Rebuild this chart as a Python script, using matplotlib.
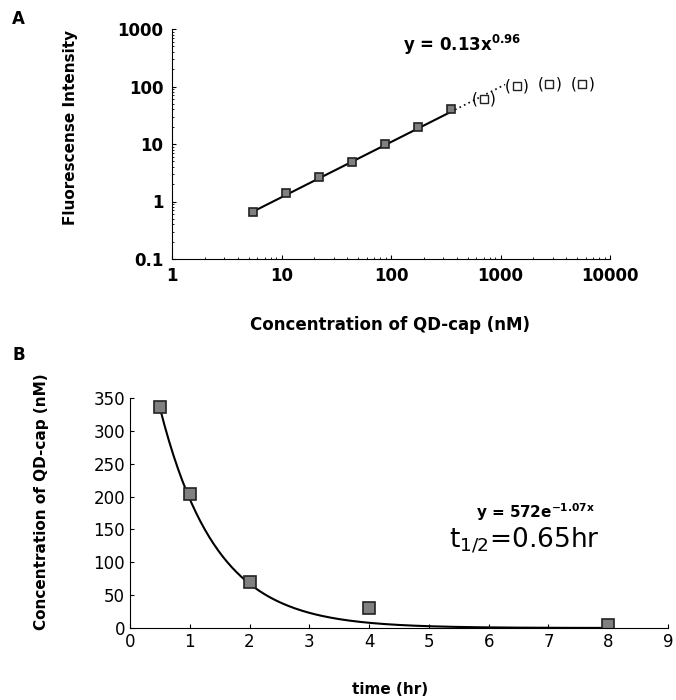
import numpy as np
import matplotlib.pyplot as plt
from matplotlib.ticker import FixedLocator, NullFormatter

plt.rcParams['font.family'] = ['DejaVu Sans']
plt.rcParams['mathtext.fontset'] = 'dejavusans'

# panel A: fluorescence vs concentration (log-log)
conc_fit = [5.5, 11, 22, 44, 88, 175, 350]
fluor_fit = [0.67, 1.43, 2.7, 4.9, 10, 19.6, 40]
conc_sat = [700, 1400, 2800, 5600]
fluor_sat = [60, 103, 110, 110]
pow_a, pow_b = 0.13, 0.96

# panel B: concentration vs time
time_hr = [0.5, 1, 2, 4, 8]
conc_t = [336, 204, 70, 30, 5]
exp_a, exp_k = 572, 1.07

fig = plt.figure(figsize=(6.76, 7), dpi=100)

# ---- A
ax1 = fig.add_axes([172/676, 1-259/700, (610-172)/676, (259-29)/700])
xs = np.logspace(np.log10(conc_fit[0]), np.log10(conc_fit[-1]), 50)
ax1.plot(xs, pow_a*xs**pow_b, color='black', lw=1.5)
xd = np.logspace(np.log10(conc_fit[-1]), np.log10(1100), 20)
ax1.plot(xd, pow_a*xd**pow_b, color='black', lw=1.2, ls=(0, (1, 2)))
ax1.plot(conc_fit, fluor_fit, 's', ms=6, mfc='#808080', mec='#222222', mew=1.2)
ax1.plot(conc_sat, fluor_sat, 's', ms=6, mfc='white', mec='#222222', mew=1.0)
# brackets round the saturated points
for x, y in zip(conc_sat, fluor_sat):
    ax1.annotate('(', (x, y), xytext=(-6.5, 0), textcoords='offset points',
                 ha='center', va='center', fontsize=11)
    ax1.annotate(')', (x, y), xytext=(6.5, 0), textcoords='offset points',
                 ha='center', va='center', fontsize=11)
ax1.set_xscale('log')
ax1.set_yscale('log')
ax1.set_xlim(1, 10000)
ax1.set_ylim(0.1, 1000)
ax1.xaxis.set_major_locator(FixedLocator([1, 10, 100, 1000, 10000]))
ax1.yaxis.set_major_locator(FixedLocator([0.1, 1, 10, 100, 1000]))
ax1.set_xticklabels(['1', '10', '100', '1000', '10000'])
ax1.set_yticklabels(['0.1', '1', '10', '100', '1000'])
ax1.xaxis.set_minor_formatter(NullFormatter())
ax1.yaxis.set_minor_formatter(NullFormatter())
for s in ['top', 'right']:
    ax1.spines[s].set_visible(False)
ax1.tick_params(which='both', direction='in', labelsize=12, pad=6)
ax1.tick_params(which='major', length=3)
ax1.tick_params(which='minor', length=1.5)
for lab in ax1.get_xticklabels() + ax1.get_yticklabels():
    lab.set_fontweight('bold')
ax1.set_ylabel('Fluorescense Intensity', fontsize=11, fontweight='bold')
ax1.yaxis.set_label_coords(-0.215, 0.57)
ax1.set_xlabel('Concentration of QD-cap (nM)', fontsize=12, fontweight='bold')
ax1.xaxis.set_label_coords(0.498, -0.25)
ax1.text(450, 520, r'y = 0.13x$^{\mathbf{0.96}}$', ha='center', va='center',
         fontsize=12, fontweight='bold')
fig.text(12/676, 1-19/700, 'A', fontsize=12, fontweight='bold', va='center')

# ---- B
ax2 = fig.add_axes([130/676, 1-628/700, (668-130)/676, (628-398)/700])
tt = np.linspace(0.5, 8, 200)
ax2.plot(tt, exp_a*np.exp(-exp_k*tt), color='black', lw=1.5)
ax2.plot(time_hr, conc_t, 's', ms=8.5, mfc='#808080', mec='#222222', mew=1.2)
ax2.set_xlim(0, 9)
ax2.set_ylim(0, 350)
ax2.set_xticks(range(0, 10))
ax2.set_yticks(range(0, 351, 50))
for s in ['top', 'right']:
    ax2.spines[s].set_visible(False)
ax2.tick_params(direction='in', length=3, labelsize=12)
ax2.set_ylabel('Concentration of QD-cap (nM)', fontsize=11, fontweight='bold')
ax2.yaxis.set_label_coords(-0.15, 0.55)
ax2.set_xlabel('time (hr)', fontsize=11, fontweight='bold')
ax2.xaxis.set_label_coords(0.483, -0.235)
ax2.text(6.79, 176, r'y = 572e$^{\mathbf{-1.07x}}$', ha='center', va='center',
         fontsize=11, fontweight='bold')
ax2.text(6.6, 132, r't$_{1/2}$=0.65hr', ha='center', va='center', fontsize=19)
fig.text(12/676, 1-355/700, 'B', fontsize=12, fontweight='bold', va='center')

fig.savefig('out.png', dpi=100)
